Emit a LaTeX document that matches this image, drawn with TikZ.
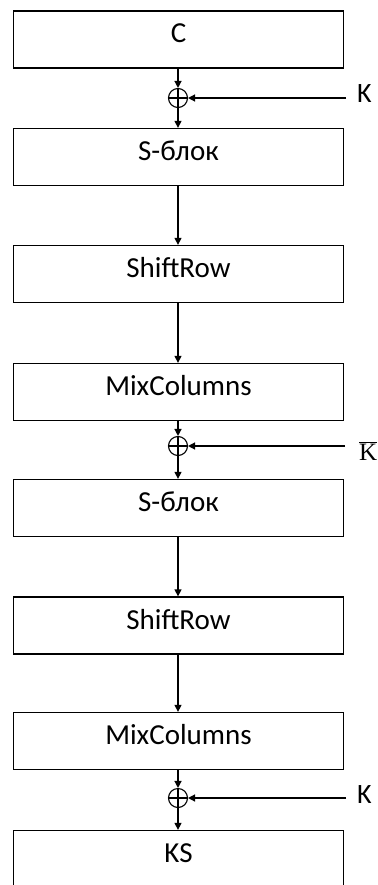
\documentclass[tikz,border=0pt]{standalone}
\usepackage{fontspec}
\setmainfont{Carlito}
\newfontfamily\serifk{Liberation Serif}
\usetikzlibrary{arrows.meta}
\begin{document}
\begin{tikzpicture}[x=1pt,y=-1pt,
  blk/.style={draw, line width=1.3pt, minimum width=330pt, minimum height=57pt,
    inner sep=0pt, text height=19pt, text depth=12pt, font=\fontsize{29}{34}\selectfont},
  xorc/.style={draw, circle, line width=1.1pt, minimum size=19pt, inner sep=0pt},
  arr/.style={line width=1.3pt, -{Triangle[length=7pt,width=7pt]}},
  lab/.style={anchor=base west, inner sep=0pt, font=\fontsize{28}{34}\selectfont}]
\useasboundingbox (0,0) rectangle (377,885);
\clip (0,0) rectangle (377,885);
% boxes
\node[blk] (c)   at (178.5,39.5)  {C};
\node[blk] (s1)  at (178.5,157)   {S-блок};
\node[blk] (sr1) at (178.5,274)   {ShiftRow};
\node[blk] (mc1) at (178.5,392)   {MixColumns};
\node[blk] (s2)  at (178.5,508)   {S-блок};
\node[blk] (sr2) at (178.5,625.5) {ShiftRow};
\node[blk] (mc2) at (178.5,741)   {MixColumns};
\node[blk] (ks)  at (178.5,859)   {KS};
% xor circles
\node[xorc] (x1) at (178,98) {};
\node[xorc] (x2) at (178,446) {};
\node[xorc] (x3) at (178,798) {};
\foreach \n in {x1,x2,x3}{
  \draw[line width=1.1pt] (\n.north) -- (\n.south) (\n.west) -- (\n.east);
}
% key inputs
\coordinate (k1) at (346,98);
\coordinate (k2) at (345,446);
\coordinate (k3) at (346,798);
\node[lab] (k1l) at (357,102.5) {K};
\node[lab,font=\serifk\fontsize{25}{30}\selectfont] (k2l) at (359,460) {$\overline{\hbox{\serifk\fontsize{25}{30}\selectfont K}}$};
\node[lab] (k3l) at (357,803) {K};
% connectors
\draw[arr] (c.south -| x1) -- (x1.north);
\draw[arr] (x1.south) -- (s1.north -| x1);
\draw[arr] (k1) -- (x1.east);
\draw[arr] (s1.south -| x1) -- (sr1.north -| x1);
\draw[arr] (sr1.south -| x1) -- (mc1.north -| x1);
\draw[arr] (mc1.south -| x2) -- (x2.north);
\draw[arr] (x2.south) -- (s2.north -| x2);
\draw[arr] (k2) -- (x2.east);
\draw[arr] (s2.south -| x2) -- (sr2.north -| x2);
\draw[arr] (sr2.south -| x2) -- (mc2.north -| x2);
\draw[arr] (mc2.south -| x3) -- (x3.north);
\draw[arr] (x3.south) -- (ks.north -| x3);
\draw[arr] (k3) -- (x3.east);
\end{tikzpicture}
\end{document}
